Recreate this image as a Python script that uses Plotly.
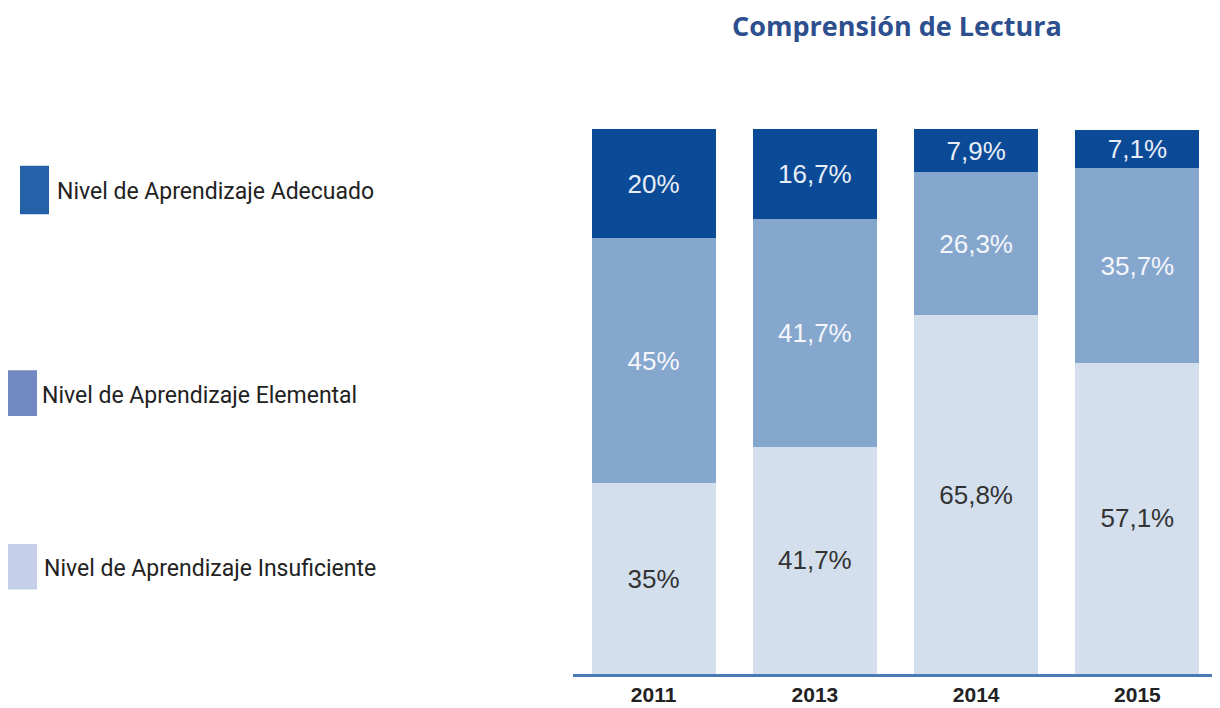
import plotly.graph_objects as go

years = ["2011", "2013", "2014", "2015"]
insuficiente = [35, 41.7, 65.8, 57.1]
elemental = [45, 41.7, 26.3, 35.7]
adecuado = [20, 16.7, 7.9, 7.1]

series_names = [
    "Nivel de Aprendizaje Adecuado",
    "Nivel de Aprendizaje Elemental",
    "Nivel de Aprendizaje Insuficiente",
]


def pct(v):
    return f"{v:g}".replace(".", ",") + "%"


# the page adds an 8px body margin, so the figure is a bit smaller than the window
W, H = 1212, 700
L, R, T, B = 565, 2, 121, 30
PW, PH = W - L - R, H - T - B


def px_x(x):
    return (x - 8 - L) / PW


def px_y(y):
    return (H - B - (y - 8)) / PH


label_font = "Liberation Sans, Arial, sans-serif"

fig = go.Figure()
fig.add_trace(go.Bar(
    x=years, y=insuficiente, name=series_names[2],
    marker_color="#d4dfee", marker_line_width=0,
    text=[pct(v) for v in insuficiente], textposition="inside",
    insidetextanchor="middle",
    textfont=dict(color="#333333", size=26, family=label_font),
))
fig.add_trace(go.Bar(
    x=years, y=elemental, name=series_names[1],
    marker_color="#86a7cd", marker_line_width=0,
    text=[pct(v) for v in elemental], textposition="inside",
    insidetextanchor="middle",
    textfont=dict(color="#f4f6fb", size=26, family=label_font),
))
fig.add_trace(go.Bar(
    x=years, y=adecuado, name=series_names[0],
    marker_color="#0b4a97", marker_line_width=0,
    text=[pct(v) for v in adecuado], textposition="inside",
    insidetextanchor="middle", constraintext="none",
    textfont=dict(color="#e8eef8", size=26, family=label_font),
))

# legend drawn by hand: swatches are spaced unevenly in the original
legend_items = [
    (series_names[0], "#2461a9", 20, 49, 166, 215, 55, 192),
    (series_names[1], "#7389c1", 8, 37, 372, 418, 40, 397),
    (series_names[2], "#c6cfea", 8, 37, 547, 593, 42, 572),
]
for name, col, x0, x1, y0, y1, tx, ty in legend_items:
    fig.add_shape(type="rect", xref="paper", yref="paper",
                  x0=px_x(x0), x1=px_x(x1), y0=px_y(y1), y1=px_y(y0),
                  fillcolor=col, line_width=0)
    fig.add_annotation(text=name, xref="paper", yref="paper",
                       x=px_x(tx), y=px_y(ty),
                       xanchor="left", yanchor="middle", showarrow=False,
                       font=dict(size=23, color="#222222",
                                 family="Liberation Sans Narrow, Roboto, sans-serif"))

fig.update_layout(
    barmode="stack",
    bargap=0.23,
    width=W, height=H,
    margin=dict(l=L, r=R, t=T, b=B),
    paper_bgcolor="white", plot_bgcolor="white",
    showlegend=False,
    title=dict(text="<b>Comprensión de Lectura</b>", xref="container", yref="container",
               x=0.7335, y=0.973, xanchor="center", yanchor="middle",
               font=dict(size=27, color="#2d4f8e", family="Open Sans, sans-serif")),
    xaxis=dict(showline=True, linecolor="#4b7bb6", linewidth=3, ticks="",
               tickfont=dict(size=21, color="#222222", family=label_font),
               tickprefix="<b>", ticksuffix="</b>", showgrid=False),
    yaxis=dict(range=[0, 100], visible=False, showgrid=False),
)

fig.write_html("out.html")
